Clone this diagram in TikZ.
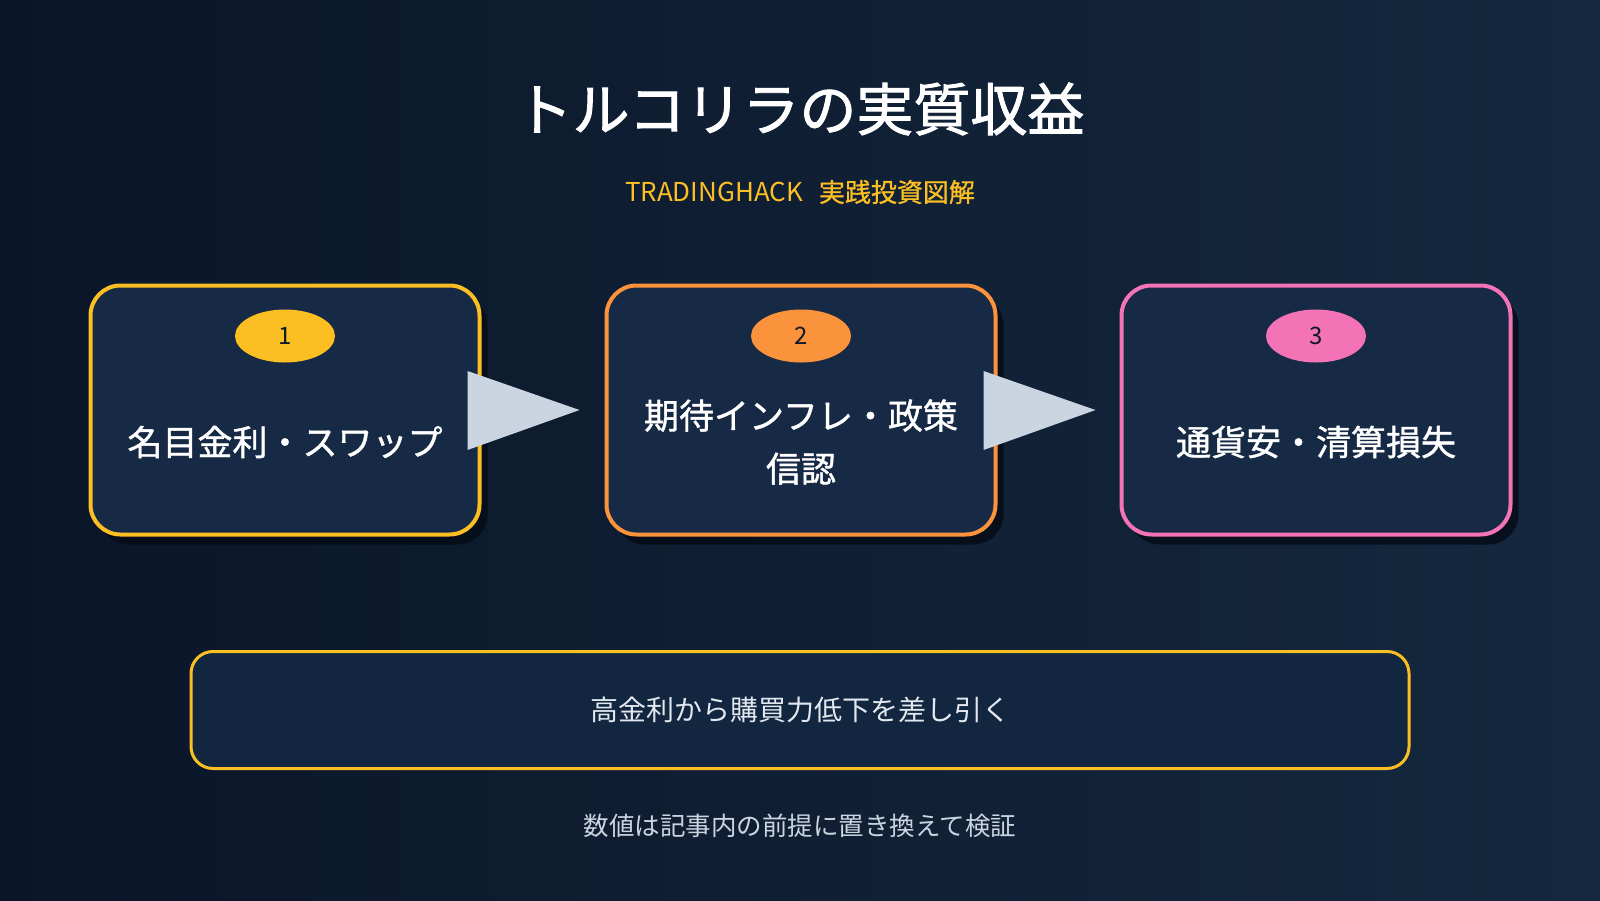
\documentclass[tikz,border=0pt]{standalone}
\usepackage{fontspec}
\setmainfont{Noto Sans CJK JP}
\usetikzlibrary{shapes.geometric,shadows}
\definecolor{bgl}{HTML}{0A1628}
\definecolor{bgr}{HTML}{15283F}
\definecolor{boxfill}{HTML}{172A45}
\definecolor{botfill}{HTML}{13263F}
\definecolor{ylw}{HTML}{FBBF24}
\definecolor{org}{HTML}{FB923C}
\definecolor{pnk}{HTML}{F472B6}
\definecolor{arr}{HTML}{CBD5E1}
\definecolor{ink}{HTML}{0F172A}
\definecolor{soft}{HTML}{E2E8F0}
\definecolor{shd}{HTML}{050B15}

\begin{document}
\begin{tikzpicture}[x=1pt,y=-1pt,
    stage/.style={draw=#1, line width=4pt, fill=boxfill, rounded corners=30pt,
      minimum width=389pt, minimum height=249pt,
      drop shadow={shadow xshift=8pt, shadow yshift=-10pt, fill=shd, opacity=0.8}},
    badge/.style={ellipse, fill=#1, minimum width=100pt, minimum height=53pt,
      inner sep=0pt, text=ink, font=\fontsize{24}{24}\selectfont},
    boxtext/.style={text=white, align=center,
      font=\fontsize{35}{53}\selectfont\addfontfeatures{FakeBold=1.2}}]
    \shade[left color=bgl, right color=bgr] (0,0) rectangle (1600,900);
    \useasboundingbox (0,0) rectangle (1600,900);

    \node[text=white, font=\fontsize{57}{60}\selectfont\addfontfeatures{FakeBold=1.6}] (0) at (800,109) {トルコリラの実質収益};
    \node[text=ylw, font=\fontsize{26}{26}\selectfont] (0b) at (800,192) {TRADINGHACK\hspace{16pt}{\addfontfeatures{FakeBold=0.8}実践投資図解}};

    \node[stage=ylw] (1) at (285,410) {};
    \node[stage=org] (2) at (801,410) {};
    \node[stage=pnk] (3) at (1316,410) {};

    \node[badge=ylw] (1a) at (285,336) {1};
    \node[badge=org] (2a) at (801,336) {2};
    \node[badge=pnk] (3a) at (1316,336) {3};

    \node[boxtext] (1b) at (285,442) {名目金利・スワップ};
    \node[boxtext] (2b) at (801,442) {期待インフレ・政策\\信認};
    \node[boxtext] (3b) at (1316,442) {通貨安・清算損失};

    \fill[arr] ([shift={(-14,-39)}]1.east) -- ([shift={(-14,40)}]1.east) -- ([shift={(98,0)}]1.east) -- cycle;
    \fill[arr] ([shift={(-14,-39)}]2.east) -- ([shift={(-14,40)}]2.east) -- ([shift={(98,0)}]2.east) -- cycle;

    \node[draw=ylw, line width=3pt, fill=botfill, rounded corners=22pt,
      minimum width=1218pt, minimum height=117pt, text=soft,
      font=\fontsize{28}{28}\selectfont] (4) at (800,710) {高金利から購買力低下を差し引く};
    \node[text=arr, font=\fontsize{25.5}{26}\selectfont] (5) at (800,826) {数値は記事内の前提に置き換えて検証};
\end{tikzpicture}
\end{document}
